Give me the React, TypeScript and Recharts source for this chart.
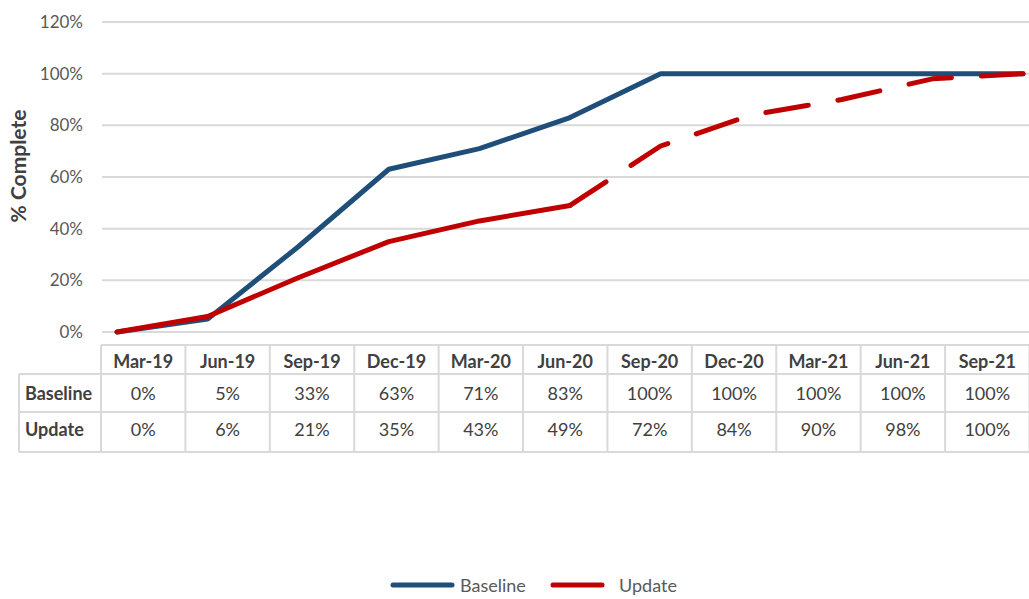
import { CartesianGrid, Label, Legend, Line, LineChart, XAxis, YAxis } from 'recharts'

const categories = ['Mar-19', 'Jun-19', 'Sep-19', 'Dec-19', 'Mar-20', 'Jun-20', 'Sep-20', 'Dec-20', 'Mar-21', 'Jun-21', 'Sep-21']
const baseline = [0, 5, 33, 63, 71, 83, 100, 100, 100, 100, 100]
const update = [0, 6, 21, 35, 43, 49, 72, 84, 90, 98, 100]
const yTicks = [0, 20, 40, 60, 80, 100, 120]
// the Update line is drawn dashed from Jun-20 onwards
const forecastFrom = 5

const tableRows = [
  { name: 'Baseline', values: baseline },
  { name: 'Update', values: update },
]

const data = categories.map((month, i) => ({
  month,
  baseline: baseline[i],
  updateActual: i <= forecastFrom ? update[i] : null,
  updateForecast: i >= forecastFrom ? update[i] : null,
}))

const FONT = 'Lato, "Open Sans", sans-serif'
const BLUE = '#1F4E79'
const RED = '#C00000'
const GRID = '#d9d9d9'
const TEXT = '#404040'

const W = 1029
const H = 599

function YTitle(props: any) {
  const vb = props.viewBox || { x: 0, y: 0, width: 0, height: 0 }
  const cy = vb.y + vb.height / 2 - 11
  return (
    <text
      transform={`translate(17, ${cy}) rotate(-90)`}
      textAnchor="middle"
      dominantBaseline="central"
      fill={TEXT}
      fontSize={21}
      fontWeight={700}
      fontFamily={FONT}
    >
      % Complete
    </text>
  )
}

const legendItems = [
  { name: 'Baseline', color: BLUE, lineW: 65, gap: 5, left: 390 },
  { name: 'Update', color: RED, lineW: 55, gap: 14, left: 550 },
]

function LegendBox() {
  return (
    <div style={{ position: 'relative', width: W, height: 24, fontFamily: FONT }}>
      {legendItems.map((it) => (
        <div
          key={it.name}
          style={{ position: 'absolute', left: it.left, top: 0, display: 'flex', alignItems: 'center', height: 24 }}
        >
          <svg width={it.lineW} height={8}>
            <line x1={3} y1={4} x2={it.lineW - 3} y2={4} stroke={it.color} strokeWidth={5} strokeLinecap="round" />
          </svg>
          <span style={{ marginLeft: it.gap, fontSize: 18, lineHeight: '22px', color: '#595959' }}>{it.name}</span>
        </div>
      ))}
    </div>
  )
}

// data table under the plot
const tblLeft = 19
const colX0 = 101
const colW = (W + 0.5 - colX0) / categories.length
const rowY = [345, 374, 412, 452]

function DataTable() {
  const right = colX0 + colW * categories.length
  return (
    <svg width={W} height={H} style={{ position: 'absolute', left: 0, top: 0, pointerEvents: 'none' }}>
      <g stroke={GRID} strokeWidth={2}>
        <line x1={colX0} y1={rowY[0]} x2={right} y2={rowY[0]} />
        {rowY.slice(1).map((y) => (
          <line key={y} x1={tblLeft} y1={y} x2={right} y2={y} />
        ))}
        <line x1={tblLeft} y1={rowY[1]} x2={tblLeft} y2={rowY[3]} />
        {categories.map((c, i) => (
          <line key={c} x1={colX0 + colW * i} y1={rowY[0]} x2={colX0 + colW * i} y2={rowY[3]} />
        ))}
        <line x1={right} y1={rowY[0]} x2={right} y2={rowY[3]} />
      </g>
      <g fontFamily={FONT} fill={TEXT} fontSize={18}>
        {categories.map((c, i) => (
          <text
            key={c}
            x={colX0 + colW * (i + 0.5)}
            y={(rowY[0] + rowY[1]) / 2 + 1}
            textAnchor="middle"
            dominantBaseline="central"
            fontWeight={700}
          >
            {c}
          </text>
        ))}
        {tableRows.map((row, r) => {
          const cy = (rowY[r + 1] + rowY[r + 2]) / 2 - (r === 1 ? 3 : 0)
          return (
            <g key={row.name}>
              <text x={tblLeft + 6} y={cy} dominantBaseline="central" fontWeight={700}>
                {row.name}
              </text>
              {row.values.map((v, i) => (
                <text key={i} x={colX0 + colW * (i + 0.5)} y={cy} textAnchor="middle" dominantBaseline="central">
                  {v}%
                </text>
              ))}
            </g>
          )
        })}
      </g>
    </svg>
  )
}

export default function App() {
  return (
    <div style={{ position: 'absolute', left: 0, top: 0, width: W, height: H, background: '#fff', overflow: 'hidden' }}>
      <LineChart width={W} height={H} data={data} margin={{ top: 22, right: 0, bottom: 267, left: 0 }}>
        <CartesianGrid vertical={false} stroke={GRID} strokeWidth={2} />
        <XAxis dataKey="month" hide padding={{ left: 15, right: 6 }} />
        <YAxis
          domain={[0, 120]}
          ticks={yTicks}
          tickFormatter={(v: number) => `${v}%`}
          tick={{ fill: '#595959', fontSize: 17, fontFamily: FONT }}
          tickLine={false}
          axisLine={false}
          tickSize={6}
          tickMargin={13}
          width={102}
        >
          <Label content={YTitle} />
        </YAxis>
        <Line
          dataKey="baseline"
          name="Baseline"
          stroke={BLUE}
          strokeWidth={5}
          strokeLinecap="round"
          strokeLinejoin="round"
          dot={false}
          activeDot={false}
          isAnimationActive={false}
        />
        <Line
          dataKey="updateActual"
          name="Update"
          stroke={RED}
          strokeWidth={5}
          strokeLinecap="round"
          strokeLinejoin="round"
          dot={false}
          activeDot={false}
          isAnimationActive={false}
        />
        <Line
          dataKey="updateForecast"
          name="Update forecast"
          legendType="none"
          stroke={RED}
          strokeWidth={5}
          strokeDasharray="43 30"
          strokeLinecap="round"
          strokeLinejoin="round"
          dot={false}
          activeDot={false}
          isAnimationActive={false}
        />
        <Legend
          layout="horizontal"
          verticalAlign="middle"
          align="center"
          content={() => <LegendBox />}
          wrapperStyle={{ top: 573, left: 0, width: W }}
        />
      </LineChart>
      <DataTable />
    </div>
  )
}
